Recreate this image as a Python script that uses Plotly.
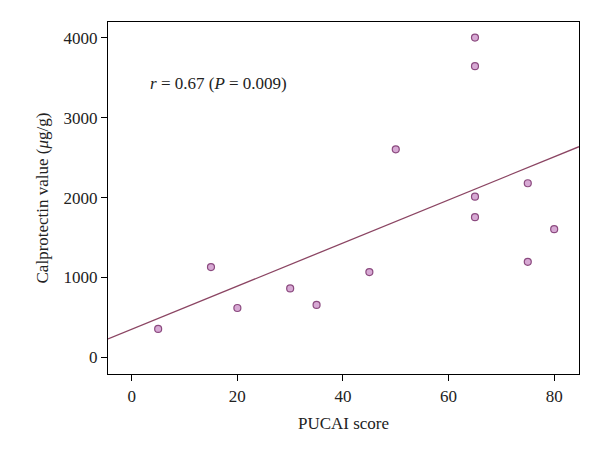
import plotly.graph_objects as go

# PUCAI score vs calprotectin
pucai = [5, 15, 20, 30, 35, 45, 50, 65, 65, 65, 65, 75, 75, 80]
calprotectin = [355, 1130, 617, 862, 655, 1067, 2605, 4005, 3646, 2012, 1755, 2180, 1196, 1605]

# regression line
slope = 27.0
intercept = 351
line_x = [-4.5, 84.7]
line_y = [intercept + slope * x for x in line_x]

font = dict(family="Liberation Serif, serif", size=17, color="#222")

fig = go.Figure()
fig.add_trace(go.Scatter(x=line_x, y=line_y, mode="lines",
                         line=dict(color="#8b4563", width=1.3), hoverinfo="skip"))
fig.add_trace(go.Scatter(x=pucai, y=calprotectin, mode="markers",
                         marker=dict(size=7, color="#d7a9d4",
                                     line=dict(color="#8b4a7f", width=1.2))))

axis = dict(showline=True, linecolor="black", linewidth=1.2, mirror=True,
            ticks="outside", ticklen=6, tickcolor="black", showgrid=False,
            zeroline=False, tickfont=font)
fig.update_xaxes(axis, range=[-4.5, 84.7], tickvals=[0, 20, 40, 60, 80],
                 title=dict(text="PUCAI score", font=font, standoff=12))
fig.update_yaxes(axis, range=[-210, 4200], tickvals=[0, 1000, 2000, 3000, 4000],
                 title=dict(text="Calprotectin value (<i>μ</i>g/g)", font=font, standoff=10))

fig.add_annotation(x=3, y=3430, xanchor="left", yanchor="middle", showarrow=False,
                   text="<i>r</i> = 0.67 (<i>P</i> = 0.009)", font=font)

fig.update_layout(width=600, height=459, showlegend=False,
                  plot_bgcolor="white", paper_bgcolor="white",
                  margin=dict(l=100, r=29, t=14, b=93))
fig.write_html("out.html")
